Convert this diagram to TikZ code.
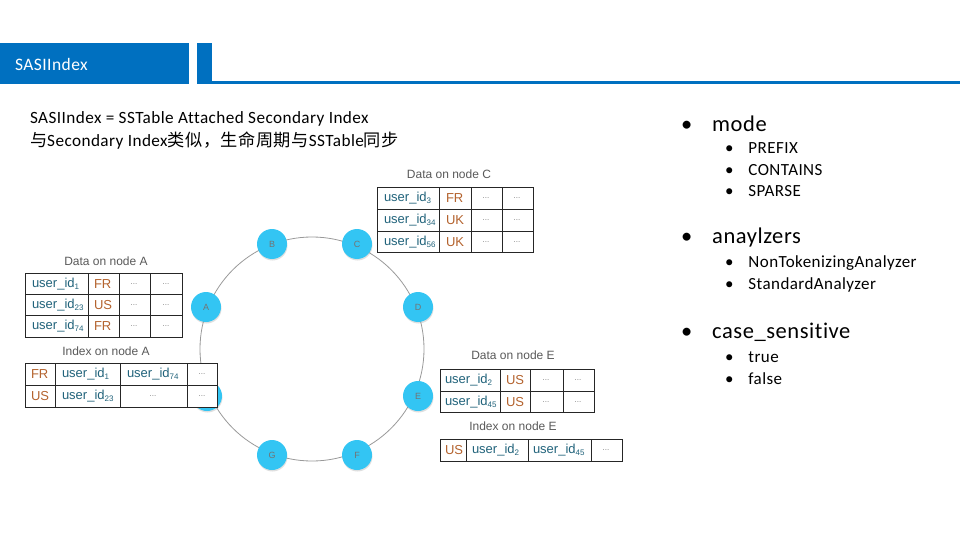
\documentclass[tikz,border=0pt]{standalone}
\usepackage{fontspec}
\setmainfont{Carlito}[LetterSpace=2.5,Ligatures=NoCommon]
\newfontfamily\cjk{Noto Sans CJK SC}[LetterSpace=3]
\newfontfamily\tblfont{Liberation Sans}
\usetikzlibrary{shadows}
\definecolor{hdrblue}{HTML}{0070C0}
\definecolor{ringcol}{HTML}{33C5F3}
\definecolor{idcol}{HTML}{21637B}
\definecolor{cccol}{HTML}{B4632E}
\newcommand\idsub[1]{\raisebox{-0.35ex}{\fontsize{8}{9}\selectfont #1}}
\begin{document}
\begin{tikzpicture}[x=1pt,y=-1pt,
  every node/.style={inner sep=0pt, outer sep=0pt},
  tblbg/.style={fill=white, draw=black!85, line width=1pt},
  gridline/.style={draw=black!85, line width=1pt},
  idtxt/.style={font=\tblfont\fontsize{13}{15}\selectfont, text=idcol, anchor=west},
  cctxt/.style={font=\tblfont\fontsize{13}{15}\selectfont, text=cccol, anchor=west},
  dots/.style={font=\tblfont\fontsize{8}{9}\selectfont, text=black!50},
  ttl/.style={font=\tblfont\fontsize{12}{14}\selectfont, text=black!65},
  ringnode/.style={circle, fill=ringcol, minimum size=30pt, font=\tblfont\fontsize{9}{10}\selectfont, text=black!55,
     drop shadow={opacity=0.25, shadow xshift=0.5pt, shadow yshift=-1.5pt}},
  bigitem/.style={font=\fontsize{22.5}{26}\selectfont, anchor=west},
  subitem/.style={font=\fontsize{17}{20}\selectfont, anchor=west},
  bodytext/.style={font=\fontsize{17.2}{20}\selectfont, anchor=west},
]
\useasboundingbox (0,0) rectangle (960,540);

% header
\fill[hdrblue] (0,43) rectangle (189,84);
\fill[hdrblue] (197,43) rectangle (212,84);
\fill[hdrblue] (212,81) rectangle (960,84);
\node[font=\fontsize{17.5}{20}\selectfont, text=white, anchor=west] (hdr) at (15,64) {SASIIndex};

% left text
\node[bodytext] (t1) at (30,119) {SASIIndex = SSTable Attached Secondary Index};
\node[bodytext] (t2) at (30,141) {{\cjk 与}Secondary Index{\cjk 类似，生命周期与}SSTable{\cjk 同步}};

% ring
\draw[black!40, line width=0.8pt] (312,349) circle (112pt);
\node[ringnode] (nA) at (206,307) {A};
\node[ringnode] (nB) at (272,244) {B};
\node[ringnode] (nC) at (357,244) {C};
\node[ringnode] (nD) at (418,307) {D};
\node[ringnode] (nE) at (418,396) {E};
\node[ringnode] (nF) at (357,455) {F};
\node[ringnode] (nG) at (272,455) {G};
\node[ringnode] (nH) at (207,396) {H};

% Data on node C
\node[ttl] (ttlC) at (449,174) {Data on node C};
\draw[tblbg] (377,187) rectangle (533,252);
\draw[gridline] (377,209) -- (533,209) (377,231) -- (533,231)
  (439,187) -- (439,252) (471,187) -- (471,252) (502,187) -- (502,252);
\node[idtxt] (c11) at (384,198) {user\_id\idsub{3}};
\node[idtxt] (c21) at (384,220) {user\_id\idsub{34}};
\node[idtxt] (c31) at (384,242) {user\_id\idsub{56}};
\node[cctxt] (c12) at (446,198) {FR};
\node[cctxt] (c22) at (446,220) {UK};
\node[cctxt] (c32) at (446,242) {UK};
\node[dots] (c13) at (486,198) {...};
\node[dots] (c23) at (486,220) {...};
\node[dots] (c33) at (486,242) {...};
\node[dots] (c14) at (517,198) {...};
\node[dots] (c24) at (517,220) {...};
\node[dots] (c34) at (517,242) {...};

% Data on node A
\node[ttl] (ttlA) at (106,261) {Data on node A};
\draw[tblbg] (25,273) rectangle (182,337);
\draw[gridline] (25,294) -- (182,294) (25,315) -- (182,315)
  (88,273) -- (88,337) (119,273) -- (119,337) (150,273) -- (150,337);
\node[idtxt] (a11) at (32,284) {user\_id\idsub{1}};
\node[idtxt] (a21) at (32,305) {user\_id\idsub{23}};
\node[idtxt] (a31) at (32,326) {user\_id\idsub{74}};
\node[cctxt] (a12) at (94,284) {FR};
\node[cctxt] (a22) at (94,305) {US};
\node[cctxt] (a32) at (94,326) {FR};
\node[dots] (a13) at (134,284) {...};
\node[dots] (a23) at (134,305) {...};
\node[dots] (a33) at (134,326) {...};
\node[dots] (a14) at (166,284) {...};
\node[dots] (a24) at (166,305) {...};
\node[dots] (a34) at (166,326) {...};

% Index on node A
\node[ttl] (ttlIA) at (106,351) {Index on node A};
\draw[tblbg] (25,363) rectangle (217,407);
\draw[gridline] (25,385) -- (217,385)
  (55,363) -- (55,407) (120,363) -- (120,407) (187,363) -- (187,407);
\node[cctxt] (i11) at (31,374) {FR};
\node[cctxt] (i21) at (31,396) {US};
\node[idtxt] (i12) at (62,374) {user\_id\idsub{1}};
\node[idtxt] (i22) at (62,396) {user\_id\idsub{23}};
\node[idtxt] (i13) at (127,374) {user\_id\idsub{74}};
\node[dots] (i23) at (153,396) {...};
\node[dots] (i14) at (202,374) {...};
\node[dots] (i24) at (202,396) {...};

% Data on node E
\node[ttl] (ttlE) at (513,355) {Data on node E};
\draw[tblbg] (440,369) rectangle (594,412);
\draw[gridline] (440,391) -- (594,391)
  (500,369) -- (500,412) (530,369) -- (530,412) (563,369) -- (563,412);
\node[idtxt] (e11) at (445,380) {user\_id\idsub{2}};
\node[idtxt] (e21) at (445,402) {user\_id\idsub{45}};
\node[cctxt] (e12) at (506,380) {US};
\node[cctxt] (e22) at (506,402) {US};
\node[dots] (e13) at (546,380) {...};
\node[dots] (e23) at (546,402) {...};
\node[dots] (e14) at (578,380) {...};
\node[dots] (e24) at (578,402) {...};

% Index on node E
\node[ttl] (ttlIE) at (513,426) {Index on node E};
\draw[tblbg] (440,439) rectangle (622,461);
\draw[gridline] (466,439) -- (466,461) (528,439) -- (528,461) (591,439) -- (591,461);
\node[cctxt] (f1) at (445,450) {US};
\node[idtxt] (f2) at (472,450) {user\_id\idsub{2}};
\node[idtxt] (f3) at (533,450) {user\_id\idsub{45}};
\node[dots] (f4) at (606,450) {...};

% right bullet list
\node[bigitem] (b1) at (681,124) {•\hspace{20pt}mode};
\node[subitem] (s11) at (725,148) {•\hspace{15pt}PREFIX};
\node[subitem] (s12) at (725,170) {•\hspace{15pt}CONTAINS};
\node[subitem] (s13) at (725,191) {•\hspace{15pt}SPARSE};
\node[bigitem] (b2) at (681,238) {•\hspace{20pt}anaylzers};
\node[subitem] (s21) at (725,263) {•\hspace{15pt}NonTokenizingAnalyzer};
\node[subitem] (s22) at (725,285) {•\hspace{15pt}StandardAnalyzer};
\node[bigitem] (b3) at (681,332) {•\hspace{20pt}case\_sensitive};
\node[subitem] (s31) at (725,357) {•\hspace{15pt}true};
\node[subitem] (s32) at (725,379) {•\hspace{15pt}false};
\end{tikzpicture}
\end{document}
